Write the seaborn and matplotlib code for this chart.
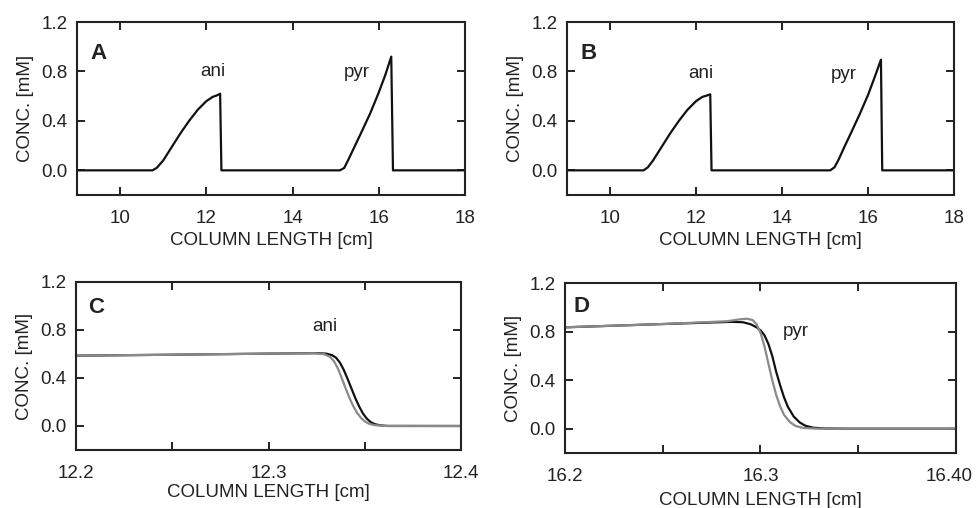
import matplotlib
matplotlib.use("Agg")
import matplotlib.pyplot as plt
import matplotlib.transforms as mtransforms
import seaborn as sns
from matplotlib.ticker import MultipleLocator

# panel A: full column profile (ani + pyr)
a_x = [9.0, 10.75, 10.85, 11.0, 11.2, 11.4, 11.6, 11.8, 12.0, 12.15, 12.25, 12.32, 12.35,
       15.1, 15.2, 15.3, 15.45, 15.6, 15.8, 16.0, 16.15, 16.29, 16.33, 18.0]
a_y = [0.0, 0.0, 0.02, 0.08, 0.19, 0.30, 0.40, 0.49, 0.56, 0.595, 0.607, 0.62, 0.0,
       0.0, 0.02, 0.09, 0.20, 0.31, 0.46, 0.63, 0.77, 0.92, 0.0, 0.0]

# panel B
b_x = [9.0, 10.78, 10.88, 11.0, 11.2, 11.4, 11.6, 11.8, 12.0, 12.15, 12.25, 12.33, 12.36,
       15.12, 15.22, 15.32, 15.45, 15.6, 15.8, 16.0, 16.15, 16.30, 16.33, 18.0]
b_y = [0.0, 0.0, 0.025, 0.08, 0.19, 0.30, 0.40, 0.49, 0.56, 0.595, 0.605, 0.615, 0.0,
       0.0, 0.025, 0.09, 0.19, 0.30, 0.45, 0.61, 0.75, 0.895, 0.0, 0.0]

# panel C: ani front, two models
c_black_x = [12.200, 12.250, 12.300, 12.325, 12.330, 12.333, 12.335, 12.337, 12.339, 12.341,
             12.343, 12.345, 12.347, 12.349, 12.351, 12.353, 12.355, 12.358, 12.362, 12.400]
c_black_y = [0.586, 0.594, 0.603, 0.607, 0.603, 0.590, 0.570, 0.530, 0.470, 0.395,
             0.315, 0.235, 0.165, 0.105, 0.062, 0.033, 0.016, 0.005, 0.000, 0.000]
c_gray_x = [12.200, 12.250, 12.300, 12.324, 12.329, 12.332, 12.334, 12.336, 12.338, 12.340,
            12.342, 12.344, 12.346, 12.348, 12.350, 12.352, 12.355, 12.360, 12.400]
c_gray_y = [0.586, 0.594, 0.603, 0.606, 0.598, 0.575, 0.540, 0.480, 0.400, 0.315,
            0.235, 0.165, 0.110, 0.068, 0.038, 0.020, 0.007, 0.001, 0.000]

# panel D: pyr front, two models
d_black_x = [16.200, 16.250, 16.285, 16.291, 16.295, 16.298, 16.300, 16.302, 16.304, 16.306,
             16.308, 16.310, 16.312, 16.314, 16.317, 16.320, 16.323, 16.327, 16.333, 16.345, 16.400]
d_black_y = [0.835, 0.862, 0.880, 0.877, 0.860, 0.835, 0.810, 0.770, 0.700, 0.600,
             0.470, 0.360, 0.260, 0.180, 0.100, 0.052, 0.024, 0.008, 0.002, 0.000, 0.000]
d_gray_x = [16.200, 16.250, 16.283, 16.289, 16.293, 16.296, 16.298, 16.300, 16.302, 16.304,
            16.306, 16.308, 16.310, 16.312, 16.315, 16.318, 16.322, 16.328, 16.340, 16.400]
d_gray_y = [0.835, 0.862, 0.885, 0.900, 0.906, 0.895, 0.860, 0.790, 0.680, 0.540,
            0.400, 0.280, 0.185, 0.115, 0.055, 0.022, 0.006, 0.001, 0.000, 0.000]

y_ticks = [0.0, 0.4, 0.8, 1.2]
y_labels = ["0.0", "0.4", "0.8", "1.2"]

sns.set_theme(style="ticks")
plt.rcParams["font.family"] = ["Liberation Sans", "DejaVu Sans"]

INK = "#222222"
BLACK = "#111111"
GRAY = "#8a8a8a"
FS = 13.5

fig = plt.figure(figsize=(9.76, 5.08), dpi=100)
ax_a = fig.add_axes([0.0789, 0.616, 0.3975, 0.3406])
ax_b = fig.add_axes([0.581, 0.616, 0.3965, 0.3406])
ax_c = fig.add_axes([0.0779, 0.1142, 0.3945, 0.3307])
ax_d = fig.add_axes([0.5789, 0.1083, 0.4006, 0.3346])


def style(ax, xlabelpad=5):
    ax.set_ylim(-0.2, 1.2)
    ax.set_yticks(y_ticks)
    ax.set_yticklabels(y_labels)
    for s in ax.spines.values():
        s.set_visible(True)
        s.set_linewidth(1.5)
        s.set_color(INK)
    ax.tick_params(direction="in", which="both", top=True, right=True,
                   length=5.5, width=1.4, colors=INK, labelsize=FS)
    ax.tick_params(axis="x", pad=10.5)
    ax.tick_params(axis="y", pad=7)
    ax.set_ylabel("CONC. [mM]", fontsize=FS, color=INK, labelpad=5)
    ax.set_xlabel("COLUMN LENGTH [cm]", fontsize=FS, color=INK, labelpad=xlabelpad)


def letter(ax, x, y, s):
    ax.text(x, y, s, transform=ax.transAxes, fontsize=16, fontweight="bold",
            va="center", ha="left", color=INK)


for ax, xs, ys, tag in [(ax_a, a_x, a_y, "A"), (ax_b, b_x, b_y, "B")]:
    sns.lineplot(x=xs, y=ys, ax=ax, color=BLACK, linewidth=1.6, sort=False, estimator=None)
    ax.set_xlim(9, 18)
    ax.set_xticks([10, 12, 14, 16, 18])
    ax.set_xticklabels(["10", "12", "14", "16", "18"])
    style(ax, xlabelpad=4)
    letter(ax, 0.034, 0.82, tag)

ax_a.text(12.14, 0.80, "ani", fontsize=FS, ha="center", va="center", color=INK)
ax_a.text(15.50, 0.79, "pyr", fontsize=FS, ha="center", va="center", color=INK)
ax_b.text(12.12, 0.785, "ani", fontsize=FS, ha="center", va="center", color=INK)
ax_b.text(15.44, 0.775, "pyr", fontsize=FS, ha="center", va="center", color=INK)

# zoomed fronts
sns.lineplot(x=c_black_x, y=c_black_y, ax=ax_c, color=BLACK, linewidth=1.6, sort=False, estimator=None)
sns.lineplot(x=c_gray_x, y=c_gray_y, ax=ax_c, color=GRAY, linewidth=1.6, sort=False, estimator=None)
ax_c.set_xlim(12.2, 12.4)
ax_c.set_xticks([12.2, 12.3, 12.4])
ax_c.set_xticklabels(["12.2", "12.3", "12.4"])
ax_c.xaxis.set_minor_locator(MultipleLocator(0.05))
style(ax_c, xlabelpad=2)
letter(ax_c, 0.031, 0.85, "C")
ax_c.text(12.329, 0.83, "ani", fontsize=FS, ha="center", va="center", color=INK)

sns.lineplot(x=d_black_x, y=d_black_y, ax=ax_d, color=BLACK, linewidth=1.6, sort=False, estimator=None)
sns.lineplot(x=d_gray_x, y=d_gray_y, ax=ax_d, color=GRAY, linewidth=1.6, sort=False, estimator=None)
ax_d.set_xlim(16.2, 16.4)
ax_d.set_xticks([16.2, 16.3, 16.4])
ax_d.set_xticklabels(["16.2", "16.3", "16.40"])
ax_d.xaxis.set_minor_locator(MultipleLocator(0.05))
style(ax_d, xlabelpad=5)
letter(ax_d, 0.022, 0.86, "D")
ax_d.text(16.318, 0.80, "pyr", fontsize=FS, ha="center", va="center", color=INK)

# last label sits at the right edge of the figure; nudge it inward a little
last = ax_d.get_xticklabels()[-1]
last.set_transform(last.get_transform() + mtransforms.ScaledTranslation(-5 / 72, 0, fig.dpi_scale_trans))

fig.savefig("out.png", dpi=100)
